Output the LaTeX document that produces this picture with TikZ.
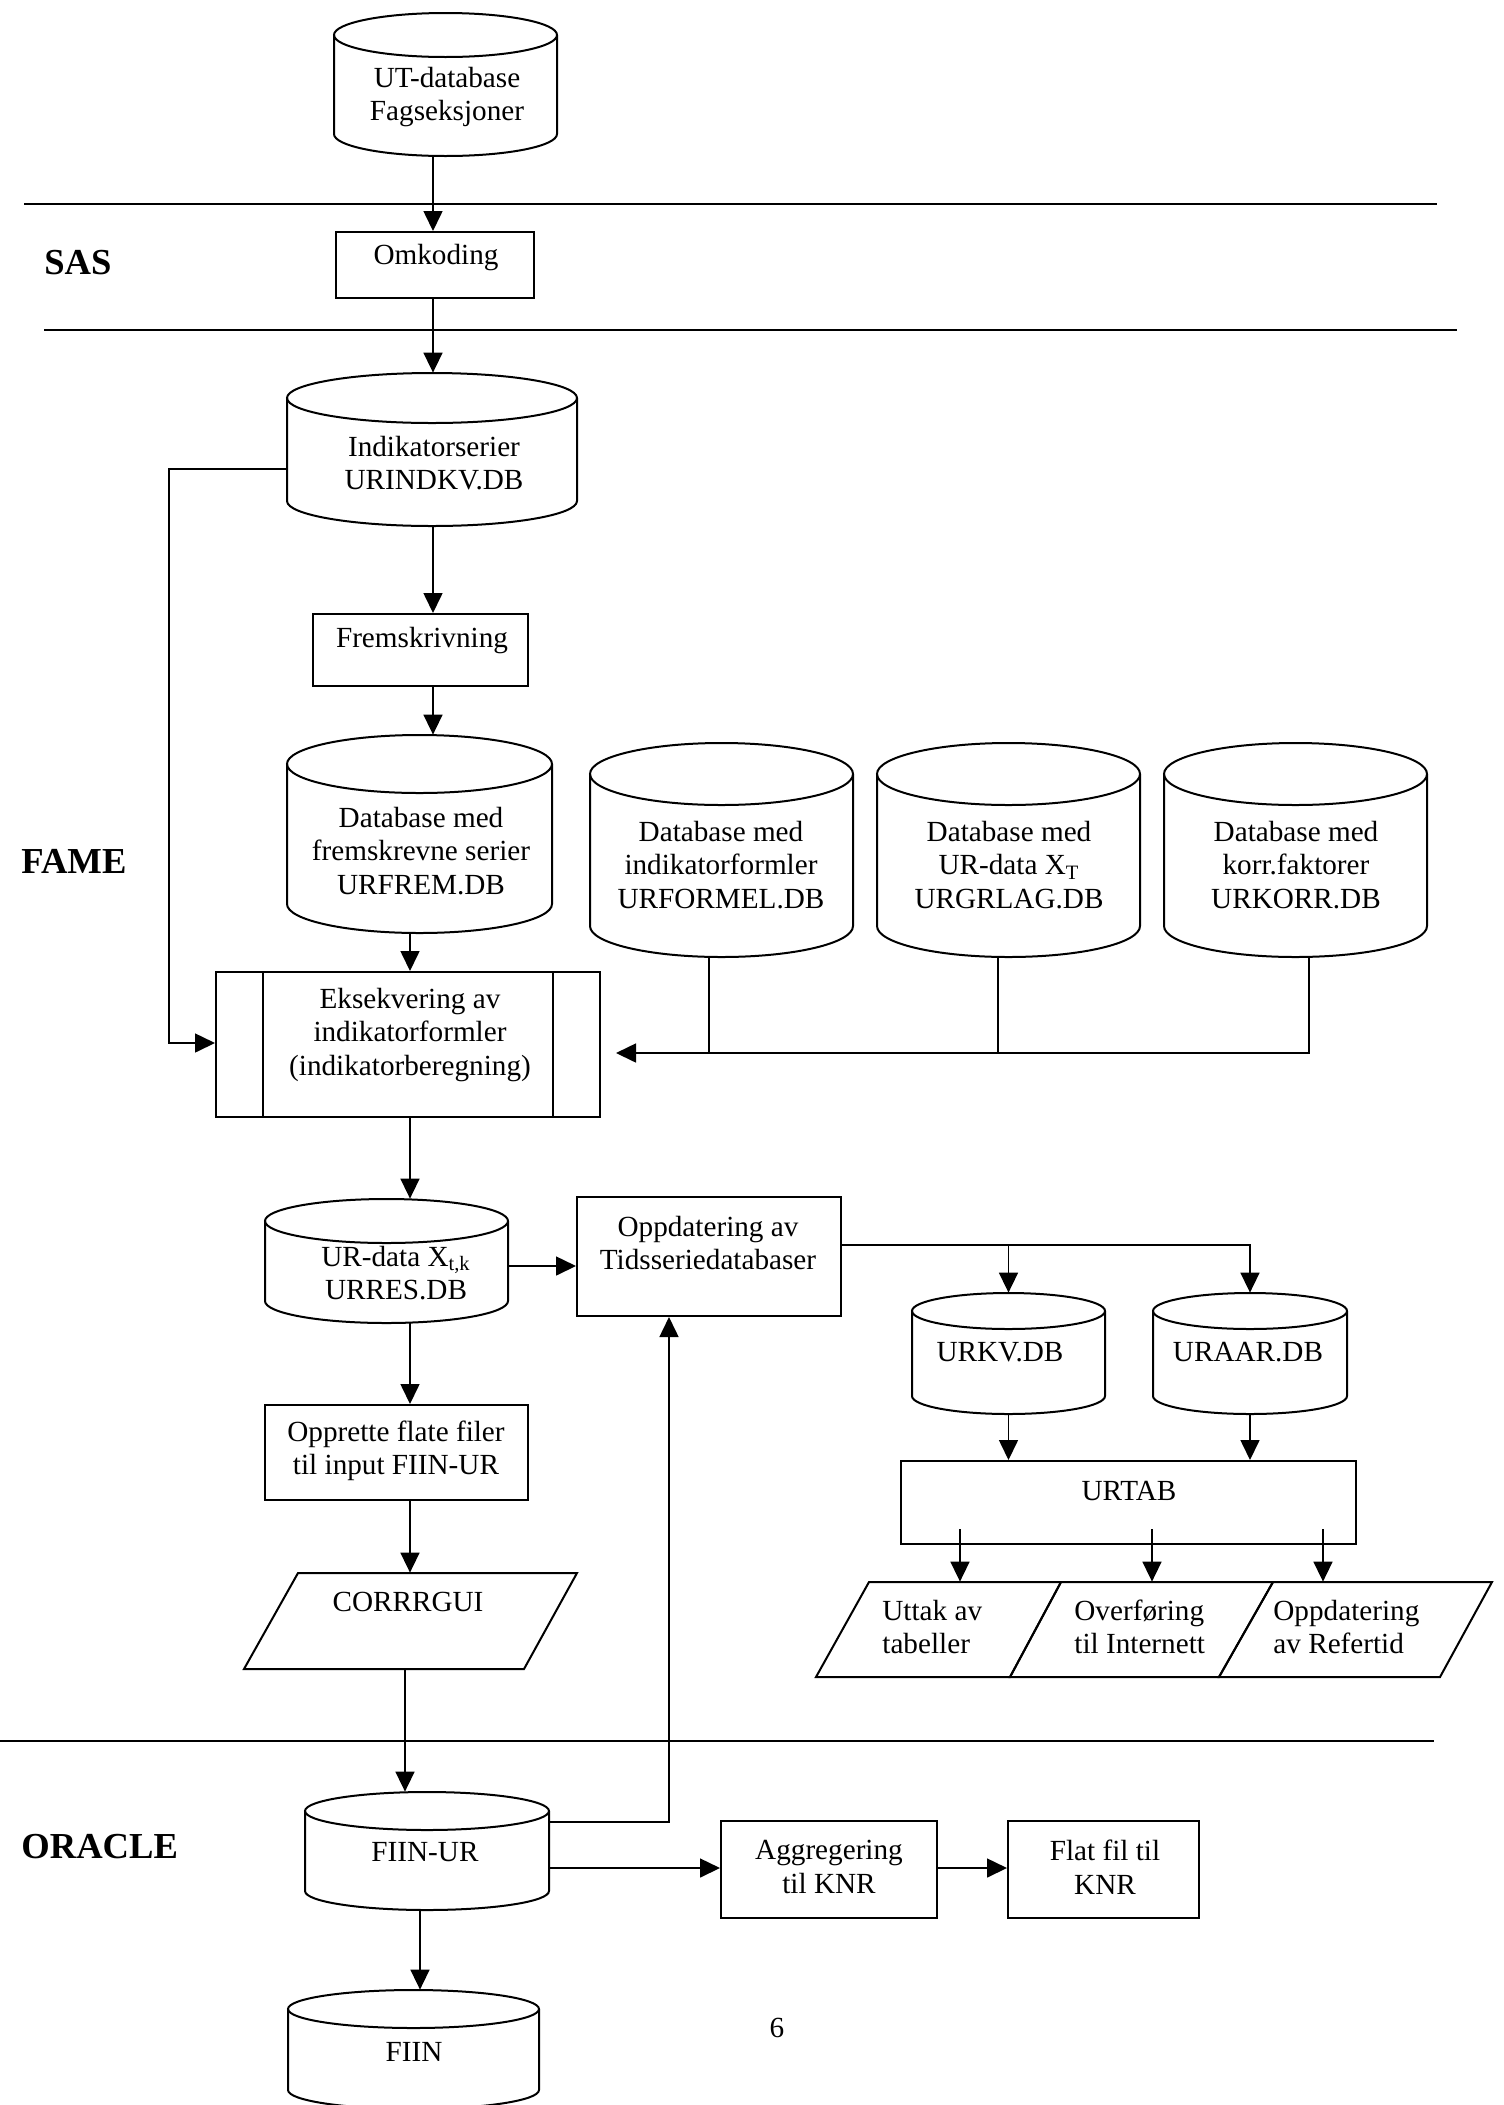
\documentclass[tikz,border=0pt]{standalone}
\usepackage{fontspec}
\setmainfont{Liberation Serif}
\usetikzlibrary{arrows.meta,fit,calc}
\newcommand\dbcyl[6]{%
  \pgfmathsetmacro\cyCx{(#2+#4)/2}%
  \pgfmathsetmacro\cyRx{(#4-#2)/2}%
  \pgfmathsetmacro\cyYa{#3+#6}%
  \pgfmathsetmacro\cyYb{#5-#6}%
  \pgfmathsetmacro\cyKx{0.5523*\cyRx}%
  \pgfmathsetmacro\cyKy{0.5523*#6}%
  \draw[shp] (\cyCx,\cyYa) ellipse [x radius={\cyRx*0.5pt}, y radius={#6*0.5pt}];
  \draw[shp] (#2,\cyYa) -- (#2,\cyYb) .. controls (#2,\cyYb+\cyKy) and (\cyCx-\cyKx,#5) .. (\cyCx,#5) .. controls (\cyCx+\cyKx,#5) and (#4,\cyYb+\cyKy) .. (#4,\cyYb) -- (#4,\cyYa);
  \node[fit={(#2,#3) (#4,#5)}, inner sep=0] (#1) {};
}
\newcommand\paragr[7]{% name, ytop, ybot, xtl, xtr, xbl, xbr
  \draw[shp] (#4,#2) -- (#5,#2) -- (#7,#3) -- (#6,#3) -- cycle;
  \node[fit={(#6,#2) (#5,#3)}, inner sep=0] (#1) {};
}
\begin{document}
\begin{tikzpicture}[x=0.5pt,y=-0.5pt,
  shp/.style={line width=1pt},
  box/.style={draw, line width=1pt, inner sep=0},
  ln/.style={line width=0.8pt},
  arr/.style={line width=0.8pt,-{Triangle[length=10pt,width=9.5pt]}},
  txt/.style={align=center, inner sep=0, font=\fontsize{14.6}{16.8}\selectfont},
  ltxt/.style={align=left, inner sep=0, anchor=west, font=\fontsize{14.6}{16.8}\selectfont},
  lbl/.style={font=\fontsize{18.3}{20}\selectfont\bfseries, inner sep=0, anchor=west},
  sep/.style={line width=1pt}]
\useasboundingbox (0,0) rectangle (1504,2105);

% separator lines
\draw[sep] (24,204) -- (1437,204);
\draw[sep] (44,330) -- (1457,330);
\draw[sep] (0,1741) -- (1434,1741);

% section labels
\node[lbl] (sas) at (44,263) {SAS};
\node[lbl] (fame) at (21,861) {FAME};
\node[lbl] (oracle) at (21,1847) {ORACLE};

% shapes
\dbcyl{ut}{334}{13}{557}{156}{22}
\node[txt] (utT) at (447,97) {UT-database\\Fagseksjoner};

\node[box, fit={(336,232) (534,298)}] (omk) {};
\node[txt] (omkT) at (436,258) {Omkoding};

\dbcyl{ind}{287}{373}{577}{526}{25}
\node[txt] (indT) at (434,463) {Indikatorserier\\URINDKV.DB};

\node[box, fit={(313,614) (528,686)}] (frem) {};
\node[txt] (fremT) at (422,641) {Fremskrivning};

\dbcyl{fremdb}{287}{735}{552}{933}{29}
\node[txt] (fremdbT) at (421,851) {Database med\\fremskrevne serier\\URFREM.DB};

\dbcyl{form}{590}{743}{853}{957}{31}
\node[txt] (formT) at (721,865) {Database med\\indikatorformler\\URFORMEL.DB};
\dbcyl{grlag}{877}{743}{1140}{957}{31}
\node[txt] (grlagT) at (1009,865) {Database med\\UR-data X\textsubscript{T}\\URGRLAG.DB};
\dbcyl{korr}{1164}{743}{1427}{957}{31}
\node[txt] (korrT) at (1296,865) {Database med\\korr.faktorer\\URKORR.DB};

\node[box, fit={(216,972) (600,1117)}] (eks) {};
\draw[shp] (263,972) -- (263,1117);
\draw[shp] (553,972) -- (553,1117);
\node[txt] (eksT) at (410,1035) {Eksekvering av\\indikatorformler\\(indikatorberegning)};

\dbcyl{urres}{265}{1199}{508}{1323}{22}
\node[txt] (urresT) at (396,1273) {UR-data X\textsubscript{t,k}\\URRES.DB};

\node[box, fit={(577,1197) (841,1316)}] (opp) {};
\node[txt] (oppT) at (708,1243) {Oppdatering av\\Tidsseriedatabaser};

\dbcyl{urkv}{912}{1293}{1105}{1414}{18}
\node[txt] (urkvT) at (1000,1352) {URKV.DB};
\dbcyl{uraar}{1153}{1293}{1347}{1414}{18}
\node[txt] (uraarT) at (1248,1352) {URAAR.DB};

\node[box, fit={(901,1461) (1356,1544)}] (urtab) {};
\node[txt] (urtabT) at (1129,1491) {URTAB};

\paragr{p1}{1582}{1677}{869}{1061}{816}{1010}
\paragr{p2}{1582}{1677}{1061}{1273}{1010}{1219}
\paragr{p3}{1582}{1677}{1273}{1492}{1219}{1440}
\node[ltxt] (p1T) at (882,1627) {Uttak av\\tabeller};
\node[ltxt] (p2T) at (1074,1627) {Overføring\\til Internett};
\node[ltxt] (p3T) at (1273,1627) {Oppdatering\\av Refertid};

\node[box, fit={(265,1405) (528,1500)}] (oppr) {};
\node[txt] (opprT) at (396,1451) {Opprette flate filer\\til input FIIN-UR};

\paragr{corr}{1573}{1669}{298}{577}{244}{524}
\node[txt] (corrT) at (408,1602) {CORRRGUI};

\dbcyl{fiinur}{305}{1792}{549}{1910}{19}
\node[txt] (fiinurT) at (425,1852) {FIIN-UR};

\node[box, fit={(721,1821) (937,1918)}] (aggr) {};
\node[txt] (aggrT) at (829,1867) {Aggregering\\til KNR};
\node[box, fit={(1008,1821) (1199,1918)}] (flat) {};
\node[txt] (flatT) at (1105,1867) {Flat fil til\\KNR};

\dbcyl{fiin}{288}{1990}{539}{2109}{19}
\node[txt] (fiinT) at (414,2052) {FIIN};

\node[txt] (pnum) at (777,2028) {6};

% connectors
\draw[arr] (ut.south -| 433,0) -- (omk.north -| 433,0);
\draw[arr] (omk.south -| 433,0) -- (ind.north -| 433,0);
\draw[arr] (ind.south -| 433,0) -- (frem.north -| 433,0);
\draw[arr] (frem.south -| 433,0) -- (fremdb.north -| 433,0);
\draw[arr] (ind.west |- 0,469) -| (169,1043) -- (eks.west |- 0,1043);
\draw[arr] (fremdb.south -| 410,0) -- (eks.north -| 410,0);
\draw[ln] (form.south -| 709,0) -- (709,1053);
\draw[ln] (grlag.south -| 998,0) -- (998,1053);
\draw[arr] (korr.south -| 1309,0) |- ($(eks.east |- 0,1053)+(15,0)$);
\draw[arr] (eks.south -| 410,0) -- (urres.north -| 410,0);
\draw[arr] (urres.east |- 0,1266) -- (opp.west |- 0,1266);
\draw[arr] (opp.east |- 0,1245) -| (uraar.north);
\draw[arr] (urkv.north |- 0,1245) -- (urkv.north);
\draw[arr] (urkv.south) -- (urkv.south |- urtab.north);
\draw[arr] (uraar.south) -- (uraar.south |- urtab.north);
\draw[arr] ($(urtab.south -| 960,0)+(0,-16)$) -- (p1.north -| 960,0);
\draw[arr] ($(urtab.south -| 1152,0)+(0,-16)$) -- (p2.north -| 1152,0);
\draw[arr] ($(urtab.south -| 1323,0)+(0,-16)$) -- (p3.north -| 1323,0);
\draw[arr] (urres.south -| 410,0) -- (oppr.north -| 410,0);
\draw[arr] (oppr.south -| 410,0) -- (corr.north -| 410,0);
\draw[arr] (corr.south -| 405,0) -- (fiinur.north -| 405,0);
\draw[arr] (fiinur.east |- 0,1822) -| (opp.south -| 669,0);
\draw[arr] (fiinur.east |- 0,1868) -- (aggr.west |- 0,1868);
\draw[arr] (aggr.east |- 0,1868) -- (flat.west |- 0,1868);
\draw[arr] (fiinur.south -| 420,0) -- (fiin.north -| 420,0);
\end{tikzpicture}
\end{document}
